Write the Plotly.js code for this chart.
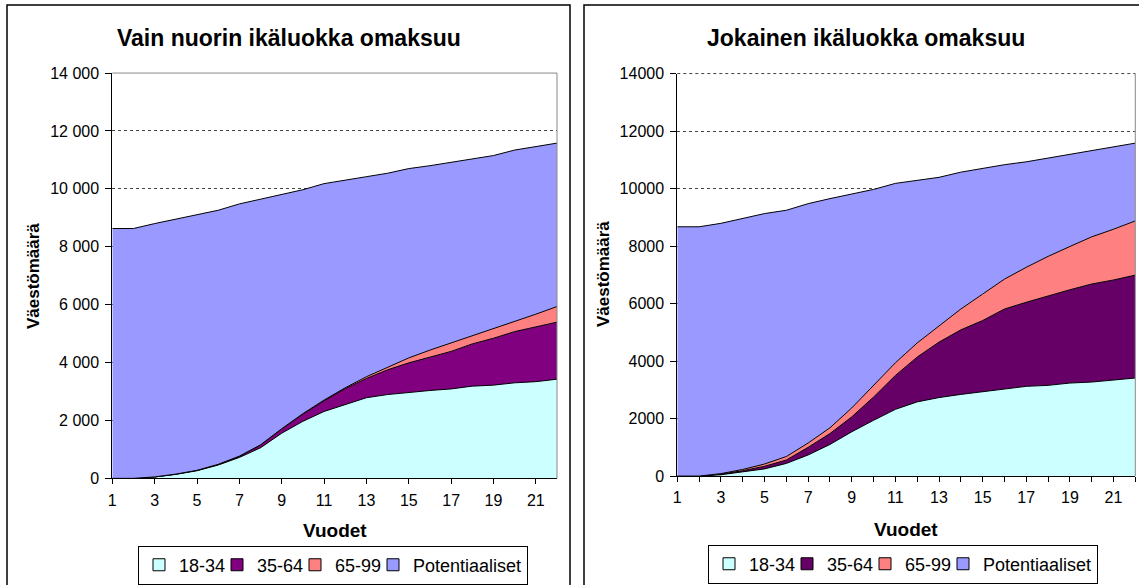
<!DOCTYPE html>
<html>
<head>
<meta charset="utf-8">
<script src="https://cdn.plot.ly/plotly-3.0.1.min.js"></script>
<style>
html,body{margin:0;padding:0;background:#fff;overflow:hidden}
#chart{width:1139px;height:585px}
</style>
</head>
<body>
<div id="chart"></div>
<script>
// ---------- data ----------
const years = [1,2,3,4,5,6,7,8,9,10,11,12,13,14,15,16,17,18,19,20,21,22];
const seriesNames = ['18-34','35-64','65-99','Potentiaaliset'];

// Left chart: "Vain nuorin ikäluokka omaksuu"
const left_18_34 = [0,0,46,138,264,459,723,1056,1560,1970,2310,2560,2785,2895,2975,3035,3090,3185,3220,3300,3340,3425];
const left_35_64 = [0,0,4,7,11,21,37,91,140,250,370,540,665,855,1015,1155,1295,1460,1620,1770,1880,1970];
const left_65_99 = [0,0,0,2,3,5,8,12,15,15,25,30,60,90,170,240,290,300,330,360,450,540];
const left_pot   = [8630,8630,8750,8803,8842,8775,8712,8491,8085,7735,7475,7160,6910,6700,6540,6370,6235,6095,5980,5910,5790,5645];

// Right chart: "Jokainen ikäluokka omaksuu"
const right_18_34 = [0,0,45,135,250,440,735,1100,1540,1940,2320,2580,2730,2840,2925,3015,3120,3155,3235,3270,3350,3410];
const right_35_64 = [0,0,25,50,90,120,265,380,520,810,1180,1560,1930,2245,2485,2795,2925,3120,3245,3410,3470,3580];
const right_65_99 = [0,0,15,45,80,120,150,200,310,400,440,490,550,725,920,1040,1215,1365,1505,1640,1765,1885];
const right_pot   = [8670,8670,8705,8725,8710,8565,8325,7970,7430,6820,6240,5655,5180,4760,4380,3980,3670,3420,3180,3000,2840,2705];

// ticks
const xTickVals = [1,3,5,7,9,11,13,15,17,19,21];
const xTickText = ['1','3','5','7','9','11','13','15','17','19','21'];
const yTickVals = [0,2000,4000,6000,8000,10000,12000,14000];
const yTickTextLeft  = ['0','2 000','4 000','6 000','8 000','10 000','12 000','14 000'];
const yTickTextRight = ['0','2000','4000','6000','8000','10000','12000','14000'];

const titleLeft = 'Vain nuorin ikäluokka omaksuu';
const titleRight = 'Jokainen ikäluokka omaksuu';
const yTitle = 'Väestömäärä';
const xTitle = 'Vuodet';

const colorsLeft  = ['#CCFFFF','#800080','#FF8080','#9999FF'];
const colorsRight = ['#CCFFFF','#660066','#FF8080','#9999FF'];

// ---------- build ----------
const W = 1139, H = 585;
const FONT = 'Liberation Sans, Arial, Helvetica, sans-serif';
const px = v => v / W;
const py = v => 1 - v / H;

const leftSeries = [left_18_34, left_35_64, left_65_99, left_pot];
const rightSeries = [right_18_34, right_35_64, right_65_99, right_pot];

const traces = [];
function addChart(series, colors, xa, ya, group, legendId) {
  series.forEach((vals, i) => {
    traces.push({
      type: 'scatter', mode: 'lines', x: years, y: vals,
      stackgroup: group, name: seriesNames[i],
      line: {color: '#000', width: 1}, fillcolor: colors[i],
      xaxis: xa, yaxis: ya, showlegend: false, hoverinfo: 'skip'
    });
  });
  // legend entries (square swatches, no plotted data)
  series.forEach((vals, i) => {
    const entry = {
      type: 'bar', x: [null], y: [null], name: seriesNames[i],
      marker: {color: colors[i], line: {color: '#000', width: 1}},
      xaxis: xa, yaxis: ya, legend: legendId, showlegend: true, hoverinfo: 'skip'
    };
    if (i < 3) entry.legendwidth = 33;
    traces.push(entry);
  });
}
addChart(leftSeries, colorsLeft, 'x', 'y', 'L', 'legend');
addChart(rightSeries, colorsRight, 'x2', 'y2', 'R', 'legend2');

const xCommon = {
  range: [1, 22], tickmode: 'array', tickvals: xTickVals, ticktext: xTickText,
  ticks: 'outside', ticklen: 5, tickcolor: '#000', tickwidth: 1,
  showline: true, linecolor: '#000', linewidth: 1,
  showgrid: false, zeroline: false, fixedrange: true, ticklabelstandoff: 2,
  tickfont: {family: FONT, size: 16, color: '#000'}
};
function yCommon(text) {
  return {
    range: [0, 14000], tickmode: 'array', tickvals: yTickVals, ticktext: text,
    ticks: 'outside', ticklen: 6, tickcolor: '#000', tickwidth: 1,
    showline: true, linecolor: '#000', linewidth: 1,
    showgrid: true, gridcolor: '#444', gridwidth: 1, griddash: 'dot',
    zeroline: false, fixedrange: true, ticklabelstandoff: 3,
    tickfont: {family: FONT, size: 16, color: '#000'}
  };
}

const legendCommon = {
  orientation: 'h', xanchor: 'center', yanchor: 'middle',
  bgcolor: '#fff', bordercolor: '#000', borderwidth: 1,
  font: {family: FONT, size: 18, color: '#000'},
  itemclick: false, itemdoubleclick: false, traceorder: 'normal'
};

const layout = {
  width: W, height: H,
  margin: {l: 0, r: 0, t: 0, b: 0},
  paper_bgcolor: '#fff', plot_bgcolor: '#fff',
  font: {family: FONT, color: '#000', size: 16},
  showlegend: true,
  xaxis: Object.assign({}, xCommon, {domain: [px(112.3), px(557)], anchor: 'y'}),
  yaxis: Object.assign(yCommon(yTickTextLeft), {domain: [py(480), py(73.3)], anchor: 'x'}),
  xaxis2: Object.assign({}, xCommon, {domain: [px(677.3), px(1135.3)], anchor: 'y2',
    minor: {tickmode: 'array', tickvals: years, ticks: 'outside', ticklen: 5, tickcolor: '#000', showgrid: false}}),
  yaxis2: Object.assign(yCommon(yTickTextRight), {domain: [py(477.7), py(73.8)], anchor: 'x2'}),
  legend: Object.assign({}, legendCommon, {x: px(333), y: py(567)}),
  legend2: Object.assign({}, legendCommon, {x: px(903), y: py(566)}),
  shapes: [
    {type: 'rect', xref: 'paper', yref: 'paper', x0: px(7), x1: px(570), y0: -0.1, y1: py(5), line: {color: '#000', width: 1.5}},
    {type: 'rect', xref: 'paper', yref: 'paper', x0: px(584), x1: 1.1, y0: -0.1, y1: py(5), line: {color: '#000', width: 1.5}},
    {type: 'line', xref: 'x domain', yref: 'y domain', x0: 0, x1: 1, y0: 1, y1: 1, line: {color: '#888', width: 1}},
    {type: 'line', xref: 'x domain', yref: 'y domain', x0: 1, x1: 1, y0: 0, y1: 1, line: {color: '#888', width: 1}},
    {type: 'line', xref: 'x2 domain', yref: 'y2 domain', x0: 0, x1: 1, y0: 1, y1: 1, line: {color: '#444', width: 1, dash: 'dot'}},
    {type: 'line', xref: 'x2 domain', yref: 'y2 domain', x0: 1, x1: 1, y0: 0, y1: 1, line: {color: '#888', width: 1}}
  ],
  annotations: [
    {text: '<b>' + titleLeft + '</b>', xref: 'paper', yref: 'paper', x: px(289), y: py(38), xanchor: 'center', yanchor: 'middle', showarrow: false, font: {family: FONT, size: 23, color: '#000'}},
    {text: '<b>' + titleRight + '</b>', xref: 'paper', yref: 'paper', x: px(866), y: py(38), xanchor: 'center', yanchor: 'middle', showarrow: false, font: {family: FONT, size: 23, color: '#000'}},
    {text: '<b>' + yTitle + '</b>', xref: 'paper', yref: 'paper', x: px(33), y: py(277), xanchor: 'center', yanchor: 'middle', textangle: -90, showarrow: false, font: {family: FONT, size: 17, color: '#000'}},
    {text: '<b>' + yTitle + '</b>', xref: 'paper', yref: 'paper', x: px(603), y: py(275), xanchor: 'center', yanchor: 'middle', textangle: -90, showarrow: false, font: {family: FONT, size: 17, color: '#000'}},
    {text: '<b>' + xTitle + '</b>', xref: 'paper', yref: 'paper', x: px(335), y: py(532), xanchor: 'center', yanchor: 'middle', showarrow: false, font: {family: FONT, size: 19, color: '#000'}},
    {text: '<b>' + xTitle + '</b>', xref: 'paper', yref: 'paper', x: px(906), y: py(531), xanchor: 'center', yanchor: 'middle', showarrow: false, font: {family: FONT, size: 19, color: '#000'}}
  ]
};

Plotly.newPlot('chart', traces, layout, {staticPlot: true, displayModeBar: false});
</script>
</body>
</html>
